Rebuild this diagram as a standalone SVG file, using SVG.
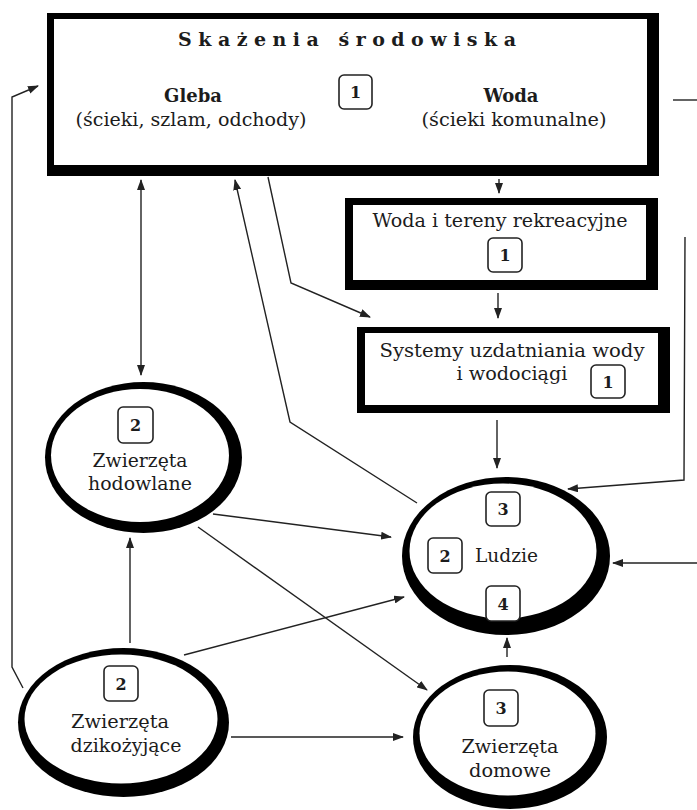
<svg xmlns="http://www.w3.org/2000/svg" width="697" height="810" viewBox="0 0 697 810">
<style>
text{font-family:"DejaVu Serif","Liberation Serif",serif;fill:#1c1c1c;}
.t{font-size:18px;text-anchor:middle;}
.b{font-weight:bold;}
.n{font-size:16px;font-weight:bold;text-anchor:middle;}
.badge{fill:#fff;stroke:#222;stroke-width:1.6;}
.c{fill:none;stroke:#222;stroke-width:1.4;}
</style>
<defs>
<marker id="ah" markerUnits="userSpaceOnUse" markerWidth="11" markerHeight="8" refX="10" refY="4" orient="auto-start-reverse" viewBox="0 0 11 8">
<path d="M0,0 L11,4 L0,8 z" fill="#222"/>
</marker>
</defs>
<rect width="697" height="810" fill="#fff"/>

<g id="skazenia">
<rect x="47" y="13" width="612" height="163" fill="#000"/>
<rect x="54" y="19" width="593" height="146" fill="#fff"/>
<text class="b" x="178" y="46" font-size="19" textLength="338" lengthAdjust="spacing">Skażenia środowiska</text>
<text class="t b" x="193" y="102" font-size="19">Gleba</text>
<text class="t" x="191" y="126" font-size="17" textLength="231" lengthAdjust="spacingAndGlyphs">(ścieki, szlam, odchody)</text>
<text class="t b" x="511" y="102" font-size="19">Woda</text>
<text class="t" x="514" y="126" font-size="17" textLength="185" lengthAdjust="spacingAndGlyphs">(ścieki komunalne)</text>
<rect class="badge" x="339" y="75" width="33" height="34" rx="5"/>
<text class="n" x="355.5" y="98">1</text>
</g>

<g id="woda-tereny">
<rect x="345" y="198" width="313" height="92" fill="#000"/>
<rect x="353" y="205" width="293" height="75" fill="#fff"/>
<text class="t" x="500" y="227" textLength="255" lengthAdjust="spacingAndGlyphs">Woda i tereny rekreacyjne</text>
<rect class="badge" x="488" y="238" width="34" height="34" rx="5"/>
<text class="n" x="505" y="261">1</text>
</g>

<g id="systemy">
<rect x="357" y="327" width="313" height="86" fill="#000"/>
<rect x="365" y="333" width="293" height="72" fill="#fff"/>
<text class="t" x="512" y="357" textLength="265" lengthAdjust="spacingAndGlyphs">Systemy uzdatniania wody</text>
<text class="t" x="512" y="380" textLength="111" lengthAdjust="spacingAndGlyphs">i wodociągi</text>
<rect class="badge" x="591" y="365" width="34" height="33" rx="5"/>
<text class="n" x="608" y="388">1</text>
</g>

<g id="hodowlane">
<ellipse cx="143.5" cy="457.5" rx="98.5" ry="75.5" fill="#000"/>
<ellipse cx="140" cy="455.5" rx="89" ry="66.5" fill="#fff"/>
<rect class="badge" x="118" y="407" width="35" height="36" rx="5"/>
<text class="n" x="135.5" y="431">2</text>
<text class="t" x="140" y="467" font-size="19" textLength="95" lengthAdjust="spacingAndGlyphs">Zwierzęta</text>
<text class="t" x="140" y="490" font-size="19" textLength="104" lengthAdjust="spacingAndGlyphs">hodowlane</text>
</g>

<g id="ludzie">
<ellipse cx="506" cy="556" rx="104" ry="79" fill="#000"/>
<ellipse cx="503" cy="551" rx="93.5" ry="67.5" fill="#fff"/>
<rect class="badge" x="486" y="492" width="34" height="34" rx="5"/>
<text class="n" x="503" y="515">3</text>
<rect class="badge" x="428" y="538" width="34" height="35" rx="5"/>
<text class="n" x="445" y="562">2</text>
<text x="475" y="562" font-size="19" textLength="63" lengthAdjust="spacingAndGlyphs">Ludzie</text>
<rect class="badge" x="486" y="586" width="34" height="35" rx="5"/>
<text class="n" x="503" y="610">4</text>
</g>

<g id="dzikozyjace">
<ellipse cx="123.5" cy="722.5" rx="105.5" ry="74.5" fill="#000"/>
<ellipse cx="121" cy="719" rx="96.5" ry="64.5" fill="#fff"/>
<rect class="badge" x="104" y="666" width="34" height="35" rx="5"/>
<text class="n" x="121" y="690">2</text>
<text class="t" x="120" y="728" font-size="19" textLength="98" lengthAdjust="spacingAndGlyphs">Zwierzęta</text>
<text class="t" x="126" y="752" font-size="19" textLength="111" lengthAdjust="spacingAndGlyphs">dzikożyjące</text>
</g>

<g id="domowe">
<ellipse cx="510" cy="737" rx="97" ry="72" fill="#000"/>
<ellipse cx="507.5" cy="733.5" rx="88" ry="62" fill="#fff"/>
<rect class="badge" x="484" y="690" width="34" height="36" rx="5"/>
<text class="n" x="501" y="714">3</text>
<text class="t" x="510" y="753" font-size="19" textLength="97" lengthAdjust="spacingAndGlyphs">Zwierzęta</text>
<text class="t" x="510" y="777" font-size="19" textLength="82" lengthAdjust="spacingAndGlyphs">domowe</text>
</g>

<g id="connectors">
<path class="c" d="M23,688 L12,667 L12,97 L38,86" marker-end="url(#ah)"/>
<path class="c" d="M141,180 L141,375" marker-start="url(#ah)" marker-end="url(#ah)"/>
<path class="c" d="M417,503 L290,422 L235,180" marker-end="url(#ah)"/>
<path class="c" d="M268,177 L291,283 L370,317" marker-end="url(#ah)"/>
<path class="c" d="M499,179 L499,193" marker-end="url(#ah)"/>
<path class="c" d="M498,293 L498,318" marker-end="url(#ah)"/>
<path class="c" d="M497,420 L497,468" marker-end="url(#ah)"/>
<path class="c" d="M673,100 L697,100"/>
<path class="c" d="M685,237 L684,480 L568,489" marker-end="url(#ah)"/>
<path class="c" d="M697,563 L613,563" marker-end="url(#ah)"/>
<path class="c" d="M213,514 L391,537" marker-end="url(#ah)"/>
<path class="c" d="M198,527 L427,690" marker-end="url(#ah)"/>
<path class="c" d="M130,643 L130,538" marker-end="url(#ah)"/>
<path class="c" d="M184,655 L404,597" marker-end="url(#ah)"/>
<path class="c" d="M231,737 L403,737" marker-end="url(#ah)"/>
<path class="c" d="M507,657 L507,638" marker-end="url(#ah)"/>
</g>
</svg>
